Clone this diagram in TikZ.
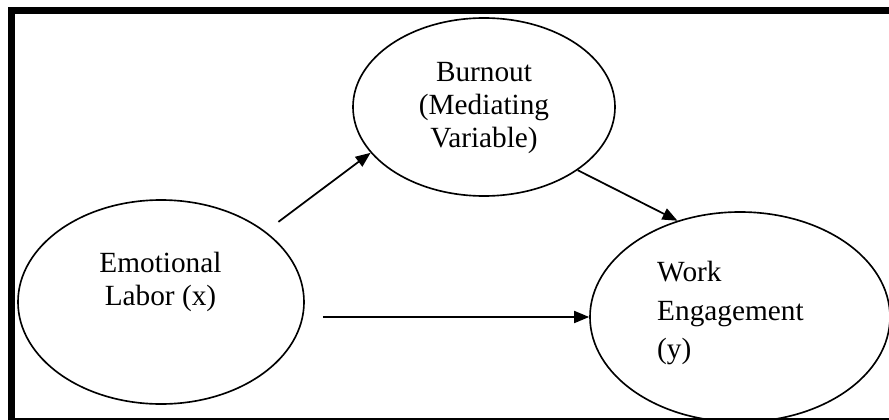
\documentclass[tikz,border=0pt]{standalone}
\usepackage{fontspec}
\setmainfont{Liberation Serif}
\usetikzlibrary{shapes.geometric,arrows.meta}

\tikzset{
  var/.style={ellipse, draw, line width=1.4pt, inner sep=0pt},
  arr/.style={line width=1.5pt, -{Triangle[length=0.45cm,width=0.36cm]}},
  txt/.style={inner sep=0pt, font=\fontsize{25}{#1}\selectfont},
  txt/.default=28
}

\begin{document}
\begin{tikzpicture}[x=0.03cm,y=-0.03cm]
  \useasboundingbox (0,0) rectangle (889,420);
  \clip (0,0) rectangle (889,420);

  % frame
  \draw[line width=6pt] (11.5,420) -- (11.5,10.7) -- (895,10.7);
  \draw[line width=1.6pt] (11.5,419) -- (889,419);

  % the three variables
  \node[var, minimum width=8.58cm, minimum height=6.12cm] (el) at (161,302) {};
  \node[var, minimum width=7.86cm, minimum height=5.34cm] (bo) at (484,107) {};
  \node[var, minimum width=9cm, minimum height=6.3cm] (we) at (740,317) {};

  \node[txt=27.6, align=center] (elt) at (160.5,282) {Emotional\\Labor (x)};
  \node[txt=28.5, align=center] (bot) at (484,108) {Burnout\\(Mediating\\Variable)};
  \node[txt=32.6, align=left, anchor=west] (wet) at (657,313) {Work\\Engagement\\(y)};

  % paths
  \draw[arr, shorten <=0.48cm] (el.34) -- (bo.202);
  \draw[arr] (bo.326) -- (we.123);
  \draw[arr, shorten <=0.54cm] (el.east |- we.west) -- (we.west);
\end{tikzpicture}
\end{document}
